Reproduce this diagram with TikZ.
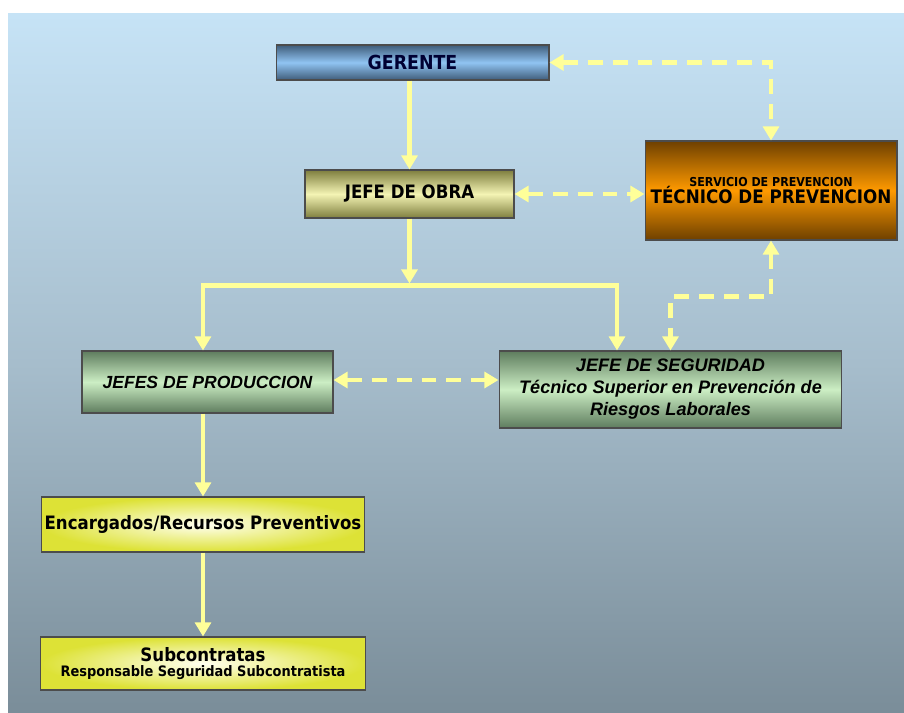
\documentclass[tikz,border=0pt]{standalone}
\usepackage{fontspec}
\newfontfamily\tahoma{DejaVu Sans Condensed}
\newfontfamily\arial{Liberation Sans}
\usetikzlibrary{arrows.meta}

\definecolor{bgtop}{HTML}{C6E3F6}
\definecolor{bgmid}{HTML}{A6BDCC}
\definecolor{bgbot}{HTML}{7A8D99}
\definecolor{flecha}{HTML}{FFFF99}
\definecolor{azulosc}{HTML}{3F5C7A}
\definecolor{azulcl}{HTML}{90C4F2}
\definecolor{oliva}{HTML}{7E7E3E}
\definecolor{olivacl}{HTML}{F4F4B4}
\definecolor{naranja}{HTML}{FF9A00}
\definecolor{marron}{HTML}{6E4000}
\definecolor{verdeosc}{HTML}{5E7C5E}
\definecolor{verdecl}{HTML}{CCEEC4}
\definecolor{amarillo}{HTML}{DDE236}

\begin{document}
\begin{tikzpicture}[x=0.02cm,y=-0.02cm,
    >={Triangle[width=9pt,length=8pt]},
    caja/.style={draw=black!70,line width=0.6pt,inner sep=2pt,align=center},
    solido/.style={draw=flecha,line width=2.4pt},
    rayas/.style={draw=flecha,line width=2.4pt,dash pattern=on 8.5pt off 5.7pt}]
\useasboundingbox (0,0) rectangle (904,713);
\shade[top color=bgtop,bottom color=bgbot,middle color=bgmid] (8,14) rectangle (904,713);

% cajas
\path
    (412.5,62.5) node [caja,minimum width=5.46cm,minimum height=0.70cm,
        top color=azulosc,bottom color=azulosc,middle color=azulcl,
        font=\tahoma\bfseries\fontsize{11}{12}\selectfont,text=black!80!blue]
        (gerente) {GERENTE}
    (409.5,194) node [caja,minimum width=4.18cm,minimum height=0.96cm,
        top color=oliva,bottom color=oliva,middle color=olivacl,
        font=\tahoma\bfseries\fontsize{10.5}{12}\selectfont]
        (obra) {JEFE DE OBRA}
    (771,190.5) node [caja,minimum width=5.04cm,minimum height=1.98cm,
        top color=marron,bottom color=marron,middle color=naranja,
        font=\tahoma\bfseries\fontsize{10.6}{12}\selectfont]
        (servicio) {{\fontsize{7}{9}\selectfont SERVICIO DE PREVENCION}\\[-2pt]
        TÉCNICO DE PREVENCION}
    (207.5,382) node [caja,minimum width=5.02cm,minimum height=1.24cm,
        top color=verdeosc,bottom color=verdeosc,middle color=verdecl,
        font=\arial\bfseries\itshape\fontsize{10}{12}\selectfont]
        (produccion) {JEFES DE PRODUCCION}
    (670.5,389.5) node [caja,minimum width=6.86cm,minimum height=1.54cm,
        top color=verdeosc,bottom color=verdeosc,middle color=verdecl,
        font=\arial\bfseries\itshape\fontsize{10.3}{12.5}\selectfont]
        (seguridad) {JEFE DE SEGURIDAD\\
        Técnico Superior en Prevención de\\ Riesgos Laborales}
    (203,524.5) node [caja,minimum width=6.48cm,minimum height=1.10cm,
        inner color=yellow!6!white,outer color=amarillo,
        font=\tahoma\bfseries\fontsize{10.5}{12}\selectfont]
        (encargados) {Encargados/Recursos Preventivos}
    (203,663.5) node [caja,minimum width=6.50cm,minimum height=1.06cm,
        inner color=yellow!6!white,outer color=amarillo,
        font=\tahoma\bfseries\fontsize{10.5}{11}\selectfont]
        (subcontratas) {Subcontratas\\[-2pt]
        {\fontsize{8.2}{10}\selectfont Responsable Seguridad Subcontratista}};

% lineas de mando
\draw [solido,->] (obra.north |- gerente.south) -- (obra.north);
\path (obra.south) ++(0,65) coordinate (cruce);
\draw [solido,->] (obra.south) -- (cruce);
\path (cruce) ++(0,2) coordinate (cruce2);
\draw [solido,->] (cruce2 -| 617,0) -- (cruce2 -| encargados.north) -- (encargados.north |- produccion.north);
\draw [solido,->] (cruce2 -| encargados.north) -- (cruce2 -| 617,0) -- (617,0 |- seguridad.north);
\draw [solido,->] (encargados.north |- produccion.south) -- (encargados.north);
\draw [solido,->] (encargados.south) -- (subcontratas.north);

% coordinacion
\draw [rayas,<->] (gerente.east) -| (servicio.north);
\draw [rayas,<->] (obra.east) -- (obra.east -| servicio.west);
\path (servicio.south) ++(0,56) coordinate (codo);
\draw [rayas,<->] (servicio.south) -- (codo) -| (seguridad.north);
\path (produccion.east) ++(0,-2) coordinate (prodder);
\draw [rayas,<->] (prodder) -- (prodder -| seguridad.west);
\end{tikzpicture}
\end{document}
